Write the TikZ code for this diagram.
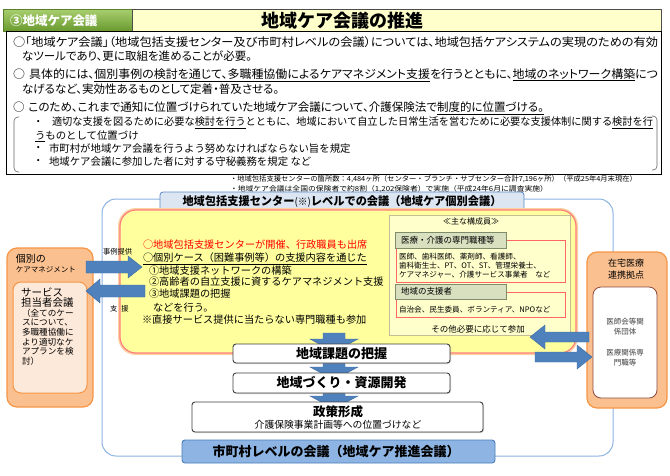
\documentclass[tikz,border=0pt]{standalone}
\usepackage{fontspec}
\usepackage{graphicx}
\setmainfont{Noto Sans CJK JP}
\newfontfamily\jpp{Noto Sans CJK JP}[RawFeature=+palt]
\usetikzlibrary{shadows}
\newcommand\fs[1]{\fontsize{#1}{#1}\selectfont}
\newsavebox\fitbox
\newlength\fitw
\newcommand\fitto[2]{\sbox\fitbox{#2}\setlength\fitw{\wd\fitbox}\pgfmathsetmacro\fitratio{#1/\fitw}\scalebox{\fitratio}[1]{\usebox\fitbox}}
\newcommand\ul[1]{\underline{#1}}
\definecolor{tabtop}{HTML}{A9CF6E}
\definecolor{tabbot}{HTML}{6A9A30}
\definecolor{tabdraw}{HTML}{5A7F2A}
\definecolor{titlefill}{HTML}{FFFFCC}
\definecolor{outerblue}{HTML}{8DB3E2}
\definecolor{hdrfill}{HTML}{DCE6F2}
\definecolor{hdrdraw}{HTML}{5B8BC7}
\definecolor{yel}{HTML}{FFFF9E}
\definecolor{yelline}{HTML}{FF7F7F}
\definecolor{yelglow}{HTML}{FBD1A2}
\definecolor{compfill}{HTML}{FFFFCC}
\definecolor{compdraw}{HTML}{C4BD97}
\definecolor{subfill}{HTML}{D8E0C0}
\definecolor{subdraw}{HTML}{7F8C6A}
\definecolor{memred}{HTML}{FF6666}
\definecolor{orfill}{HTML}{FAC090}
\definecolor{ordraw}{HTML}{F79646}
\definecolor{peach}{HTML}{FDE9D9}
\definecolor{rinner}{HTML}{8B4A3C}
\definecolor{arrowblue}{HTML}{4F81BD}
\definecolor{arrowedge}{HTML}{3D6A9E}
\definecolor{flowdraw}{HTML}{404040}
\definecolor{botfill}{HTML}{8DB4E2}
\definecolor{botdraw}{HTML}{4A7EBB}
\definecolor{redtext}{HTML}{FF0000}
\definecolor{graytext}{HTML}{404040}
\tikzset{
  rbox/.style 2 args={minimum width=#1pt, minimum height=#2pt, anchor=north west},
  lt/.style={anchor=west},
  ct/.style={anchor=center},
  barrow/.style={fill=arrowblue, draw=arrowedge, line width=0.4pt},
  flowbox/.style={fill=white, draw=flowdraw, line width=0.9pt, rounded corners=3pt,
    drop shadow={shadow xshift=1pt, shadow yshift=-1pt, opacity=0.35}},
  brk/.style={draw=black!60, line width=0.6pt, rounded corners=4pt},
}
\begin{document}
\begin{tikzpicture}[x=1pt, y=-1pt, every node/.style={inner sep=0pt, outer sep=0pt}]
\useasboundingbox[fill=white] (0,0) rectangle (670,475);

% ---------- top header ----------
\node[rbox={129}{22}, top color=tabtop, bottom color=tabbot, draw=tabdraw, line width=0.5pt] (tab) at (3,9) {};
\node[lt, text=white, font=\fs{12.5}\bfseries] (tabtxt) at (10,20.5) {③地域ケア会議};
\node[rbox={529}{22}, fill=titlefill, draw=black!70, line width=0.6pt] (titlebox) at (132,9) {};
\node[ct, font=\fs{18}\bfseries] (titletxt) at (342,20.5) {地域ケア会議の推進};

% ---------- main text box ----------
\node[rbox={655}{143}, draw=black, line width=1pt] (mainbox) at (6,31) {};
\node[lt, font=\fs{11.5}\jpp] (l1) at (13,42) {\fitto{645}{○「地域ケア会議」（地域包括支援センター及び市町村レベルの会議）については、地域包括ケアシステムの実現のための有効}};
\node[lt, font=\fs{11.5}\jpp] (l2) at (22,56) {なツールであり、更に取組を進めることが必要。};
\node[lt, font=\fs{11.5}\jpp] (l3) at (13,75) {\fitto{645}{○\hspace{4pt}具体的には、\ul{個別事例の検討を通じて、多職種協働によるケアマネジメント支援}を行うとともに、\ul{地域のネットワーク構築}につ}};
\node[lt, font=\fs{11.5}\jpp] (l4) at (22,89) {なげるなど、実効性あるものとして定着・普及させる。};
\node[lt, font=\fs{11.5}\jpp] (l5) at (13,108.5) {○\hspace{4pt}このため、これまで通知に位置づけられていた地域ケア会議について、介護保険法で\ul{制度的に位置づける。}};
\node[lt, font=\fs{10.4}] (b6) at (33,122.5) {・};
\node[lt, font=\fs{10.4}] (l6) at (52,123) {\fitto{601}{適切な支援を図るために必要な\ul{検討を行う}とともに、地域において自立した日常生活を営むために必要な支援体制に関する\ul{検討を行}}};
\node[lt, font=\fs{10.4}] (l7) at (35,136) {\ul{う}ものとして位置づけ};
\node[lt, font=\fs{10.4}] (b8) at (33,149) {・};
\node[lt, font=\fs{10.4}] (l8) at (49,149) {市町村が地域ケア会議を行うよう努めなければならない旨を規定};
\node[lt, font=\fs{10.4}] (b9) at (33,162) {・};
\node[lt, font=\fs{10.4}] (l9) at (49,162) {地域ケア会議に参加した者に対する守秘義務を規定 など};
\draw[brk] (19,117) -- (14,117) -- (14,172) -- (19,172);
\draw[brk] (652,116) -- (657,116) -- (657,170) -- (652,170);

% ---------- notes ----------
\node[lt, font=\fs{7}] (n1) at (230,179) {\fitto{407}{・地域包括支援センターの箇所数：4,484ヶ所（センター・ブランチ・サブセンター合計7,196ヶ所）（平成25年4月末現在）}};
\node[lt, font=\fs{7}] (n2) at (230,189) {\fitto{318}{・地域ケア会議は全国の保険者で約8割（1,202保険者）で実施（平成24年6月に調査実施）}};

% ---------- outer frame ----------
\node[rbox={511}{257}, draw=outerblue, line width=1pt, rounded corners=14pt] (outer) at (102,199) {};
\node[rbox={364}{19}, fill=hdrfill, draw=hdrdraw, line width=0.8pt, rounded corners=3pt] (hdr) at (160,192) {};
\node[ct, font=\fs{11.5}\bfseries] (hdrtxt) at (342,201.5) {\fitto{319}{地域包括支援センター{\mdseries\fs{10}(※)}レベルでの会議（地域ケア個別会議）}};

% ---------- yellow box ----------
\node[rbox={456}{143}, fill=yel, draw=yelline, line width=1.2pt, rounded corners=16pt,
  preaction={draw=yelglow, line width=4pt}] (yelbox) at (120,210) {};
\node[lt, font=\fs{10.2}, text=redtext] (y1) at (143,244.5) {○地域包括支援センターが開催、行政職員も出席};
\node[lt, font=\fs{10.2}] (y2) at (143,259) {\ul{○個別ケース（困難事例等）の支援内容を通じた}};
\node[lt, font=\fs{10.2}] (y3) at (149,270.7) {①地域支援ネットワークの構築};
\node[lt, font=\fs{10.2}] (y4) at (149,281.7) {②高齢者の自立支援に資するケアマネジメント支援};
\node[lt, font=\fs{10.2}] (y5) at (149,293.3) {③地域課題の把握};
\node[lt, font=\fs{10.2}] (y6) at (153,307.3) {などを行う。};
\node[lt, font=\fs{10.2}] (y7) at (142,319.3) {※直接サービス提供に当たらない専門職種も参加};

% ---------- members box ----------
\node[rbox={181}{120}, fill=compfill, draw=compdraw, line width=0.8pt] (comp) at (389,215) {};
\node[ct, font=\fs{8}] (comptitle) at (471,221.5) {≪主な構成員≫};
\node[rbox={169}{42}, draw=memred, line width=0.8pt] (mem1) at (396,240) {};
\node[rbox={111}{16}, fill=subfill, draw=subdraw, line width=0.8pt] (sub1) at (395,232) {};
\node[lt, font=\fs{8.5}] (sub1txt) at (401,240) {医療・介護の専門職種等};
\node[lt, font=\fs{7.6}] (m1) at (399,257) {医師、歯科医師、薬剤師、看護師、};
\node[lt, font=\fs{7.6}] (m2) at (399,266) {歯科衛生士、PT、OT、ST、管理栄養士、};
\node[lt, font=\fs{7.6}] (m3) at (399,275) {ケアマネジャー、介護サービス事業者　など};
\node[rbox={169}{25}, draw=memred, line width=0.8pt] (mem2) at (396,292) {};
\node[rbox={111}{15}, fill=subfill, draw=subdraw, line width=0.8pt] (sub2) at (395,284) {};
\node[lt, font=\fs{8.5}] (sub2txt) at (401,291.5) {地域の支援者};
\node[lt, font=\fs{7.6}] (m4) at (399,309.5) {自治会、民生委員、ボランティア、NPOなど};
\node[ct, font=\fs{8.5}] (other) at (478,329) {その他必要に応じて参加};

% ---------- left box ----------
\node[rbox={86}{159}, fill=orfill, draw=ordraw, line width=1.2pt, rounded corners=10pt] (ltbox) at (7,248) {};
\node[lt, font=\fs{10}] (lt1) at (16,259) {個別の};
\node[lt, font=\fs{7.5}] (lt2) at (16,269.5) {ケアマネジメント};
\node[rbox={74}{111}, fill=peach, draw=ordraw, line width=1pt, rounded corners=8pt] (ltinner) at (13,282) {};
\node[lt, font=\fs{10.5}] (li1) at (21,292) {サービス};
\node[lt, font=\fs{10.5}] (li2) at (21,302.5) {担当者会議};
\node[lt, font=\fs{8.6}] (li3) at (22,313) {（全てのケー};
\node[lt, font=\fs{8.6}] (li4) at (22,322.6) {スについて、};
\node[lt, font=\fs{8.6}] (li5) at (22,332.2) {多職種協働に};
\node[lt, font=\fs{8.6}] (li6) at (22,341.8) {より適切なケ};
\node[lt, font=\fs{8.6}] (li7) at (22,351.4) {アプランを検};
\node[lt, font=\fs{8.6}] (li8) at (22,361) {討）};

% ---------- right box ----------
\node[rbox={80}{156}, fill=orfill, draw=ordraw, line width=1.2pt, rounded corners=10pt] (rtbox) at (587,252) {};
\node[ct, font=\fs{9}] (rt1) at (626,263) {在宅医療};
\node[ct, font=\fs{9}] (rt2) at (626,275) {連携拠点};
\node[rbox={64}{111}, fill=white, draw=rinner, line width=0.8pt, rounded corners=8pt] (rtinner) at (593,287) {};
\node[ct, font=\fs{7.5}, text=graytext] (ri1) at (625,322) {医師会等関};
\node[ct, font=\fs{7.5}, text=graytext] (ri2) at (625,332) {係団体};
\node[ct, font=\fs{7.5}, text=graytext] (ri3) at (625,353) {医療関係専};
\node[ct, font=\fs{7.5}, text=graytext] (ri4) at (625,363) {門職等};

% ---------- block arrows ----------
\fill[barrow] (86,261) -- (128,261) -- (128,256) -- (142,267) -- (128,278) -- (128,273) -- (86,273) -- cycle;
\fill[barrow] (145,285) -- (100,285) -- (100,279) -- (86,291) -- (100,303) -- (100,297) -- (145,297) -- cycle;
\fill[barrow] (589,332) -- (545,332) -- (545,325) -- (530,337) -- (545,349) -- (545,342) -- (589,342) -- cycle;
\fill[barrow] (535,352) -- (577,352) -- (577,345) -- (592,357) -- (577,369) -- (577,362) -- (535,362) -- cycle;
\fill[barrow] (323,333) -- (345,333) -- (345,339) -- (358,339) -- (334,352) -- (310,339) -- (323,339) -- cycle;
\fill[barrow] (323,362) -- (345,362) -- (345,367) -- (358,367) -- (334,380) -- (310,367) -- (323,367) -- cycle;
\fill[barrow] (323,392) -- (345,392) -- (345,396) -- (358,396) -- (334,409) -- (310,396) -- (323,396) -- cycle;

% ---------- flow boxes ----------
\node[rbox={217}{19}, flowbox] (f1) at (233,344) {};
\node[ct, font=\fs{13}\bfseries] (f1txt) at (341.5,353.5) {地域課題の把握};
\node[rbox={217}{20}, flowbox] (f2) at (233,373) {};
\node[ct, font=\fs{13}\bfseries] (f2txt) at (341.5,383) {地域づくり・資源開発};
\node[rbox={291}{30}, flowbox] (f3) at (192,402) {};
\node[ct, font=\fs{12.5}\bfseries] (f3txt) at (338,411.5) {政策形成};
\node[ct, font=\fs{9.8}] (f3sub) at (338,425) {介護保険事業計画等への位置づけなど};
\node[rbox={313}{23}, fill=botfill, draw=botdraw, line width=0.9pt, rounded corners=3pt] (bot) at (182,440) {};
\node[ct, font=\fs{13}\bfseries] (bottxt) at (336,451.5) {市町村レベルの会議（地域ケア推進会議）};

% ---------- arrow labels ----------
\node[lt, font=\fs{7.3}] (lab1) at (103,251.5) {事例提供};
\node[lt, font=\fs{7.3}] (lab2) at (110,309) {支\hspace{4pt}援};
\end{tikzpicture}
\end{document}
